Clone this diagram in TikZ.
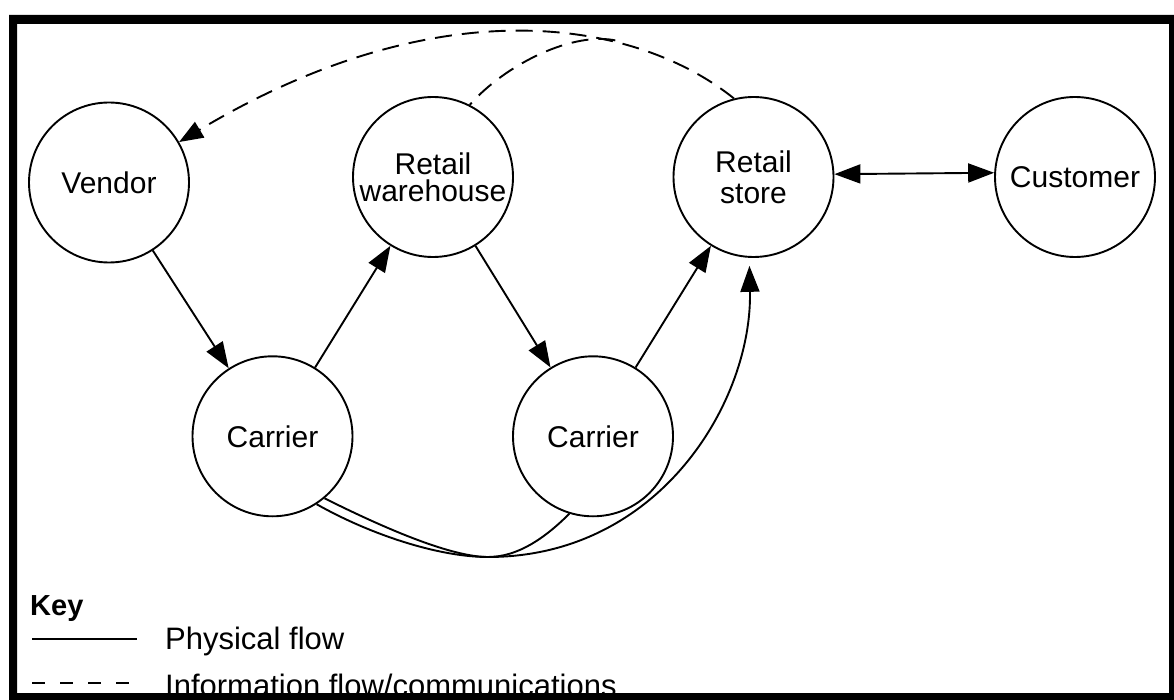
\documentclass[tikz,border=0pt]{standalone}
\usepackage{fontspec}
\setmainfont{Liberation Sans}
\usetikzlibrary{arrows.meta}
\begin{document}
\begin{tikzpicture}[x=1pt,y=-1pt,
  place/.style={circle, draw, line width=1.9pt, minimum size=160pt, inner sep=0pt,
    align=center, font=\fontsize{30}{31}\selectfont},
  flow/.style={line width=1.9pt, -{Triangle[length=26pt,width=19pt]}},
  link/.style={line width=1.9pt},
  info/.style={line width=1.9pt, dash pattern=on 17pt off 10pt},
  keytext/.style={anchor=base west, inner sep=0pt, font=\fontsize{31}{32}\selectfont},
]
\useasboundingbox (0,0) rectangle (1174,700);
\fill[white] (0,0) rectangle (1174,700);

% stages of the chain
\node[place] (vendor)    at (109,182.5) {Vendor};
\node[place] (warehouse) at (433,177)   {Retail\\[-4pt]warehouse};
\node[place] (store)     at (753.5,177) {Retail\\store};
\node[place] (customer)  at (1075,177)  {Customer};
\node[place] (carrier1)  at (272.5,436.3) {Carrier};
\node[place] (carrier2)  at (593,436.3)   {Carrier};

% physical flow
\draw[flow] (vendor) -- (carrier1);
\draw[flow] (carrier1) -- (warehouse);
\draw[flow] (warehouse) -- (carrier2);
\draw[flow] (carrier2) -- (store);
\draw[line width=1.9pt, {Triangle[length=26pt,width=19pt]}-{Triangle[length=26pt,width=19pt]}]
  (store.2.5) -- (customer.177.5);

\coordinate (low) at (488,557);
\draw[flow, shorten >=8pt] (carrier1.-57) .. controls +(53,30) and +(-50,0) .. (low)
  .. controls +(172,0) and +(3,143) .. (store.-93);
\draw[link] (carrier1.-50) .. controls +(50,25) and +(-40,0) .. (low)
  .. controls +(30,0) and +(-24,24) .. (carrier2.-107);

% information flow
\draw[info, -{Triangle[length=24pt,width=18pt]}] (store.104)
  .. controls +(-101,-81) and +(257,-154) .. (vendor.30);
\coordinate (join) at (618,41);
\draw[info, dash phase=14pt] (warehouse.63) .. controls +(35,-40) and +(-44,-11) .. (join);

% key
\node[keytext, font=\fontsize{29}{30}\selectfont\bfseries] (key) at (30,615) {Key};
\node[keytext] (physical) at (165,649) {Physical flow};
\node[keytext] (information) at (165,696) {Information flow/communications};
\draw[line width=1.9pt] (32,638.7) -- (137,638.7);
\draw[line width=1.9pt, dash pattern=on 13pt off 15pt] (32,682.7) -- (137,682.7);

% frame
\fill[black, even odd rule] (9,15) rectangle (1174,700) (17,24) rectangle (1169,693);
\end{tikzpicture}
\end{document}
